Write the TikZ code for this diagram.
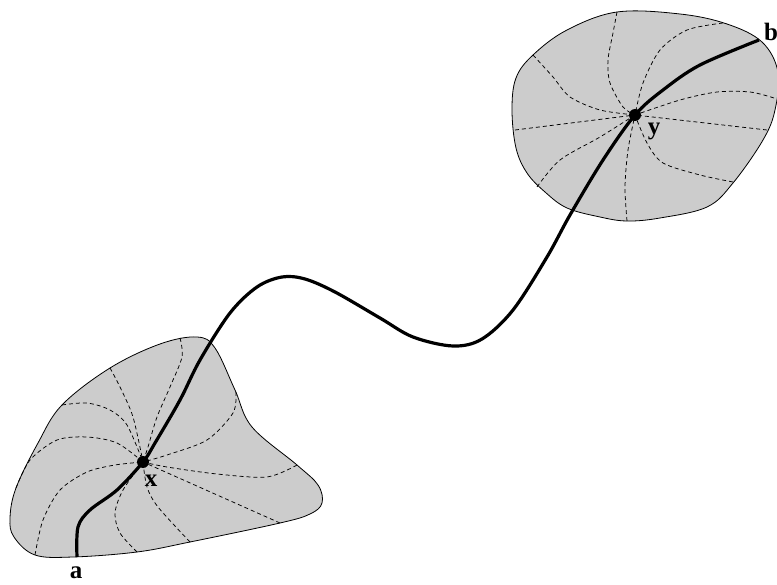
\documentclass[tikz,border=0pt]{standalone}
\usepackage{fontspec}
\setmainfont{Liberation Serif}
\begin{document}
\begin{tikzpicture}[x=1pt,y=-1pt,
  blob/.style={draw=black,line width=0.8pt,fill=black!20},
  field/.style={dashed,dash pattern=on 4pt off 3pt,line width=0.75pt},
  path/.style={line width=3.2pt},
  pt/.style={circle,fill=black,inner sep=0pt,minimum size=12pt},
  lab/.style={font=\fontsize{25}{27}\selectfont\bfseries,inner sep=0pt}]
\useasboundingbox (0,0) rectangle (777,585);
% coordinates
\coordinate (a) at (77,557);
\coordinate (x) at (143,462);
\coordinate (y) at (635,115);
\coordinate (b) at (759,40);
% lower region
\draw[blob] plot[smooth cycle,tension=0.6] coordinates {(197,337) (215,348) (235,390) (252,427) (297,465) (318,485) (322,503) (310,514) (280,523) (190,542) (137,552) (73,557) (35,555) (14,537) (10,518) (16,488) (38,443) (62,405) (110,368) (160,344)};
% upper region
\draw[blob] plot[smooth cycle,tension=0.6] coordinates {(617,12) (680,14) (727,24) (762,42) (778,72) (775,110) (763,140) (733,183) (707,207) (660,218) (627,221) (600,217) (567,208) (545,192) (527,173) (516,148) (512,110) (516,78) (533,55) (567,30)};
% lower field lines
\draw[field] plot[smooth] coordinates {(180,338) (182,357) (170,387) (157,417) (148,447) (x)};
\draw[field] plot[smooth] coordinates {(110,368) (120,387) (133,417) (x)};
\draw[field] plot[smooth] coordinates {(62,405) (87,403) (110,410) (127,425) (x)};
\draw[field] plot[smooth] coordinates {(16,488) (30,460) (57,440) (87,437) (117,443) (x)};
\draw[field] plot[smooth] coordinates {(35,555) (43,520) (60,490) (87,472) (115,465) (x)};
\draw[field] plot[smooth] coordinates {(137,552) (120,533) (115,513) (123,490) (x)};
\draw[field] plot[smooth] coordinates {(190,542) (158,507) (147,487) (x)};
\draw[field] (280,523) -- (x);
\draw[field] plot[smooth] coordinates {(297,465) (267,477) (217,474) (167,467) (x)};
\draw[field] plot[smooth] coordinates {(236,392) (233,413) (207,440) (167,455) (x)};
% upper field lines
\draw[field] plot[smooth] coordinates {(617,12) (613,33) (608,60) (610,83) (623,107) (y)};
\draw[field] plot[smooth] coordinates {(533,55) (553,77) (570,97) (600,110) (y)};
\draw[field] (515,130) -- (y);
\draw[field] plot[smooth] coordinates {(537,187) (560,160) (600,137) (y)};
\draw[field] plot[smooth] coordinates {(627,221) (625,187) (628,150) (y)};
\draw[field] plot[smooth] coordinates {(733,182) (700,175) (663,163) (647,143) (y)};
\draw[field] (767,130) -- (y);
\draw[field] plot[smooth] coordinates {(774,98) (750,92) (717,92) (680,100) (y)};
\draw[field] plot[smooth] coordinates {(723,23) (687,30) (660,50) (643,83) (y)};
% main path
\draw[path] plot[smooth,tension=0.55] coordinates {(a) (78,527) (90,510) (117,490) (x) (155,443) (180,400) (200,360) (230,313) (257,287) (282,277) (305,279) (335,292) (380,318) (413,337) (453,346) (482,339) (513,310) (547,257) (570,215) (603,160) (y) (663,90) (700,65) (b)};
% points and labels
\node[pt] (xp) at (x) {};
\node[pt] (yp) at (y) {};
\node[lab] (xl) at (151,481) {x};
\node[lab] (yl) at (654,131) {y};
\node[lab] (al) at (76,573) {a};
\node[lab] (bl) at (771,32) {b};
\end{tikzpicture}
\end{document}
